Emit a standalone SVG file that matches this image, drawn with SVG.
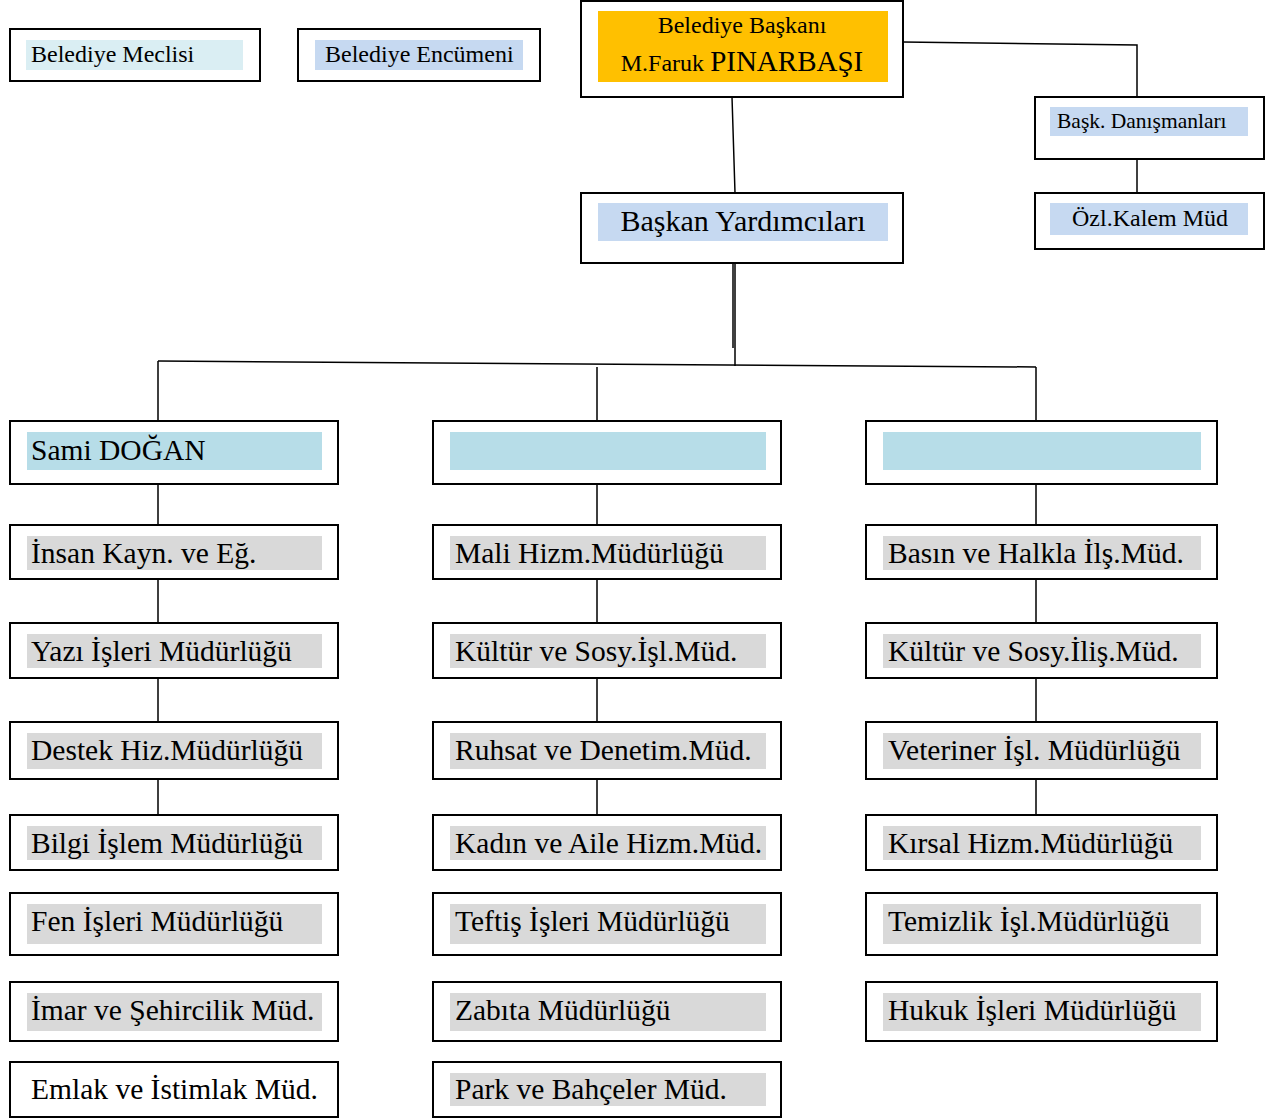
<svg xmlns="http://www.w3.org/2000/svg" width="1272" height="1118" viewBox="0 0 1272 1118">
<style>
.box{fill:#fff;stroke:#000;stroke-width:2}
.lb{fill:#B7DDE8}
.vlb{fill:#DAEEF3}
.bl{fill:#C6D9F1}
.gr{fill:#D9D9D9}
.or{fill:#FFC000}
text{font-family:"Liberation Serif","Times New Roman",serif;fill:#000}
.t{font-size:29.5px}
.s{font-size:24px}
.c{stroke:#000;stroke-width:1.5;fill:none}
</style>
<rect width="1272" height="1118" fill="#fff"/>
<g id="connectors">
<path class="c" d="M903,42 L1137,45 L1137,97"/>
<path class="c" d="M1137,159 L1137,193"/>
<path class="c" d="M732,97 L735,193"/>
<path class="c" d="M733,263 L733,348 M735,263 L735,366"/>
<path class="c" stroke-width="2.5" d="M158,361 L1036,367"/>
<path class="c" d="M158,361 L158,421 M597,367 L597,421 M1036,367 L1036,421"/>
<path class="c" d="M158,484 L158,525 M158,579 L158,623 M158,678 L158,722 M158,779 L158,815"/>
<path class="c" d="M597,484 L597,525 M597,579 L597,623 M597,678 L597,722 M597,779 L597,815"/>
<path class="c" d="M1036,484 L1036,525 M1036,579 L1036,623 M1036,678 L1036,722 M1036,779 L1036,815"/>
</g>
<g id="meclis"><rect class="box" x="10" y="29" width="250" height="52"/><rect class="vlb" x="26" y="40" width="217" height="30"/><text x="31" y="62" class="s">Belediye Meclisi</text></g>
<g id="encumen"><rect class="box" x="298" y="29" width="242" height="52"/><rect class="bl" x="315" y="40" width="208" height="30"/><text x="325" y="62" class="s">Belediye Encümeni</text></g>
<g id="baskan"><rect class="box" x="581" y="1" width="322" height="96"/><rect class="or" x="598" y="11" width="290" height="71"/><text x="742" y="33" class="s" text-anchor="middle">Belediye Başkanı</text><text x="742" y="71" text-anchor="middle"><tspan font-size="24">M.Faruk </tspan><tspan font-size="29">PINARBAŞI</tspan></text></g>
<g id="danisman"><rect class="box" x="1035" y="97" width="229" height="62"/><rect class="bl" x="1050" y="107" width="198" height="29"/><text x="1057" y="128" font-size="21.5">Başk. Danışmanları</text></g>
<g id="ozlkalem"><rect class="box" x="1035" y="193" width="229" height="56"/><rect class="bl" x="1050" y="203" width="198" height="32"/><text x="1150" y="226" class="s" text-anchor="middle">Özl.Kalem Müd</text></g>
<g id="yardimci"><rect class="box" x="581" y="193" width="322" height="70"/><rect class="bl" x="598" y="203" width="290" height="38"/><text x="743" y="231" font-size="30" text-anchor="middle">Başkan Yardımcıları</text></g>
<g id="sami"><rect class="box" x="10" y="421" width="328" height="63"/><rect class="lb" x="27" y="432" width="295" height="38"/><text x="31" y="460" class="t">Sami DOĞAN</text></g>
<g id="by2"><rect class="box" x="433" y="421" width="348" height="63"/><rect class="lb" x="450" y="432" width="316" height="38"/></g>
<g id="by3"><rect class="box" x="866" y="421" width="351" height="63"/><rect class="lb" x="883" y="432" width="318" height="38"/></g>

<g id="l1"><rect class="box" x="10" y="525" width="328" height="54"/><rect class="gr" x="27" y="536" width="295" height="34"/><text x="31" y="563" class="t">İnsan Kayn. ve Eğ.</text></g>
<g id="l2"><rect class="box" x="10" y="623" width="328" height="55"/><rect class="gr" x="27" y="634" width="295" height="34"/><text x="31" y="661" class="t">Yazı İşleri Müdürlüğü</text></g>
<g id="l3"><rect class="box" x="10" y="722" width="328" height="57"/><rect class="gr" x="27" y="733" width="295" height="36"/><text x="31" y="760" class="t">Destek Hiz.Müdürlüğü</text></g>
<g id="l4"><rect class="box" x="10" y="815" width="328" height="55"/><rect class="gr" x="27" y="826" width="295" height="34"/><text x="31" y="853" class="t">Bilgi İşlem Müdürlüğü</text></g>
<g id="l5"><rect class="box" x="10" y="893" width="328" height="62"/><rect class="gr" x="27" y="904" width="295" height="40"/><text x="31" y="931" class="t">Fen İşleri Müdürlüğü</text></g>
<g id="l6"><rect class="box" x="10" y="982" width="328" height="59"/><rect class="gr" x="27" y="993" width="295" height="38"/><text x="31" y="1020" class="t">İmar ve Şehircilik Müd.</text></g>
<g id="l7"><rect class="box" x="10" y="1062" width="328" height="55"/><text x="31" y="1099" class="t">Emlak ve İstimlak Müd.</text></g>

<g id="m1"><rect class="box" x="433" y="525" width="348" height="54"/><rect class="gr" x="450" y="536" width="316" height="34"/><text x="455" y="563" class="t">Mali Hizm.Müdürlüğü</text></g>
<g id="m2"><rect class="box" x="433" y="623" width="348" height="55"/><rect class="gr" x="450" y="634" width="316" height="34"/><text x="455" y="661" class="t">Kültür ve Sosy.İşl.Müd.</text></g>
<g id="m3"><rect class="box" x="433" y="722" width="348" height="57"/><rect class="gr" x="450" y="733" width="316" height="36"/><text x="455" y="760" class="t">Ruhsat ve Denetim.Müd.</text></g>
<g id="m4"><rect class="box" x="433" y="815" width="348" height="55"/><rect class="gr" x="450" y="826" width="316" height="34"/><text x="455" y="853" class="t">Kadın ve Aile Hizm.Müd.</text></g>
<g id="m5"><rect class="box" x="433" y="893" width="348" height="62"/><rect class="gr" x="450" y="904" width="316" height="40"/><text x="455" y="931" class="t">Teftiş İşleri Müdürlüğü</text></g>
<g id="m6"><rect class="box" x="433" y="982" width="348" height="59"/><rect class="gr" x="450" y="993" width="316" height="38"/><text x="455" y="1020" class="t">Zabıta Müdürlüğü</text></g>
<g id="m7"><rect class="box" x="433" y="1062" width="348" height="55"/><rect class="gr" x="450" y="1073" width="316" height="33"/><text x="455" y="1099" class="t">Park ve Bahçeler Müd.</text></g>

<g id="r1"><rect class="box" x="866" y="525" width="351" height="54"/><rect class="gr" x="883" y="536" width="318" height="34"/><text x="888" y="563" class="t">Basın ve Halkla İlş.Müd.</text></g>
<g id="r2"><rect class="box" x="866" y="623" width="351" height="55"/><rect class="gr" x="883" y="634" width="318" height="34"/><text x="888" y="661" class="t">Kültür ve Sosy.İliş.Müd.</text></g>
<g id="r3"><rect class="box" x="866" y="722" width="351" height="57"/><rect class="gr" x="883" y="733" width="318" height="36"/><text x="888" y="760" class="t">Veteriner İşl. Müdürlüğü</text></g>
<g id="r4"><rect class="box" x="866" y="815" width="351" height="55"/><rect class="gr" x="883" y="826" width="318" height="34"/><text x="888" y="853" class="t">Kırsal Hizm.Müdürlüğü</text></g>
<g id="r5"><rect class="box" x="866" y="893" width="351" height="62"/><rect class="gr" x="883" y="904" width="318" height="40"/><text x="888" y="931" class="t">Temizlik İşl.Müdürlüğü</text></g>
<g id="r6"><rect class="box" x="866" y="982" width="351" height="59"/><rect class="gr" x="883" y="993" width="318" height="38"/><text x="888" y="1020" class="t">Hukuk İşleri Müdürlüğü</text></g>
</svg>
